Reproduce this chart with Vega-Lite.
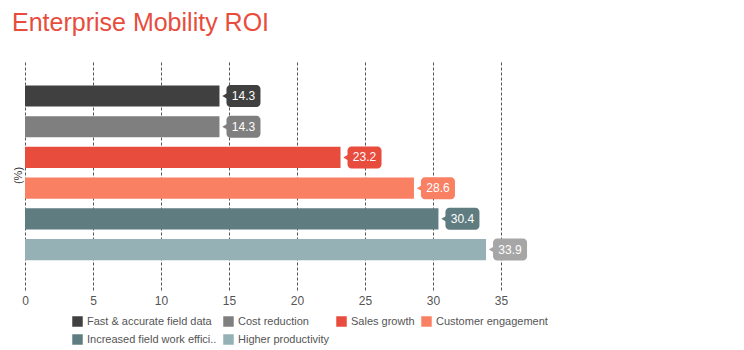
{
  "$schema": "https://vega.github.io/schema/vega-lite/v6.json",
  "autosize": "none",
  "width": 476,
  "height": 230,
  "padding": {"left": 25, "top": 60, "right": 243, "bottom": 60},
  "background": "white",
  "config": {
    "font": "Liberation Sans",
    "view": {"stroke": null}
  },
  "title": {
    "text": "Enterprise Mobility ROI",
    "anchor": "start",
    "frame": "group",
    "dx": -13,
    "offset": 24,
    "fontSize": 25,
    "fontWeight": "normal",
    "color": "#E84C3D",
    "font": "Liberation Sans"
  },
  "data": {
    "values": [
      {"category": "Fast & accurate field data", "value": 14.3},
      {"category": "Cost reduction", "value": 14.3},
      {"category": "Sales growth", "value": 23.2},
      {"category": "Customer engagement", "value": 28.6},
      {"category": "Increased field work efficiency", "value": 30.4},
      {"category": "Higher productivity", "value": 33.9}
    ]
  },
  "encoding": {
    "y": {
      "field": "category",
      "type": "nominal",
      "sort": null,
      "scale": {"paddingInner": 0.31, "paddingOuter": 0.9, "align": 0.46},
      "axis": {
        "title": "(%)",
        "labels": false,
        "ticks": false,
        "domain": false,
        "titleFontSize": 11,
        "titleFontWeight": "normal",
        "titleColor": "#333333",
        "titlePadding": 2
      }
    }
  },
  "layer": [
    {
      "mark": {"type": "bar"},
      "encoding": {
        "x": {
          "field": "value",
          "type": "quantitative",
          "scale": {"domain": [0, 35], "nice": false},
          "axis": {
            "title": null,
            "values": [0, 5, 10, 15, 20, 25, 30, 35],
            "grid": true,
            "gridDash": [3, 2],
            "gridColor": "#555555",
            "gridWidth": 1,
            "domain": false,
            "ticks": false,
            "labelFlush": false,
            "labelFontSize": 12,
            "labelColor": "#555555",
            "labelPadding": 5
          }
        },
        "color": {
          "field": "category",
          "type": "nominal",
          "sort": null,
          "scale": {
            "domain": ["Fast & accurate field data", "Cost reduction", "Sales growth", "Customer engagement", "Increased field work efficiency", "Higher productivity"],
            "range": ["#404040", "#7F7F7F", "#E84C3D", "#FA8064", "#5F7C80", "#95B1B5"]
          },
          "legend": {
            "title": null,
            "orient": "none",
            "legendX": 47,
            "legendY": 256,
            "direction": "horizontal",
            "columns": 4,
            "gridAlign": "none",
            "symbolType": "square",
            "symbolSize": 110,
            "symbolStrokeWidth": 0,
            "labelFontSize": 11,
            "labelColor": "#555555",
            "columnPadding": 6,
            "rowPadding": 6,
            "labelOffset": 4,
            "labelExpr": "datum.label === 'Increased field work efficiency' ? 'Increased field work effici..' : datum.label"
          }
        }
      }
    },
    {
      "mark": {"type": "point", "shape": "triangle-left", "filled": true, "size": 55, "opacity": 1, "xOffset": 6},
      "encoding": {
        "x": {"field": "value", "type": "quantitative"},
        "color": {
          "condition": {"test": "datum.category === 'Higher productivity'", "value": "#A6A6A6"},
          "field": "category",
          "type": "nominal",
          "sort": null
        }
      }
    },
    {
      "mark": {"type": "bar", "height": 22, "cornerRadius": 4, "xOffset": 7, "x2Offset": 41},
      "encoding": {
        "x": {"field": "value", "type": "quantitative"},
        "x2": {"field": "value"},
        "color": {
          "condition": {"test": "datum.category === 'Higher productivity'", "value": "#A6A6A6"},
          "field": "category",
          "type": "nominal",
          "sort": null
        }
      }
    },
    {
      "mark": {"type": "text", "xOffset": 24, "color": "white", "fontSize": 12, "align": "center", "baseline": "middle"},
      "encoding": {
        "x": {"field": "value", "type": "quantitative"},
        "text": {"field": "value", "type": "quantitative", "format": ".1f"}
      }
    }
  ]
}
